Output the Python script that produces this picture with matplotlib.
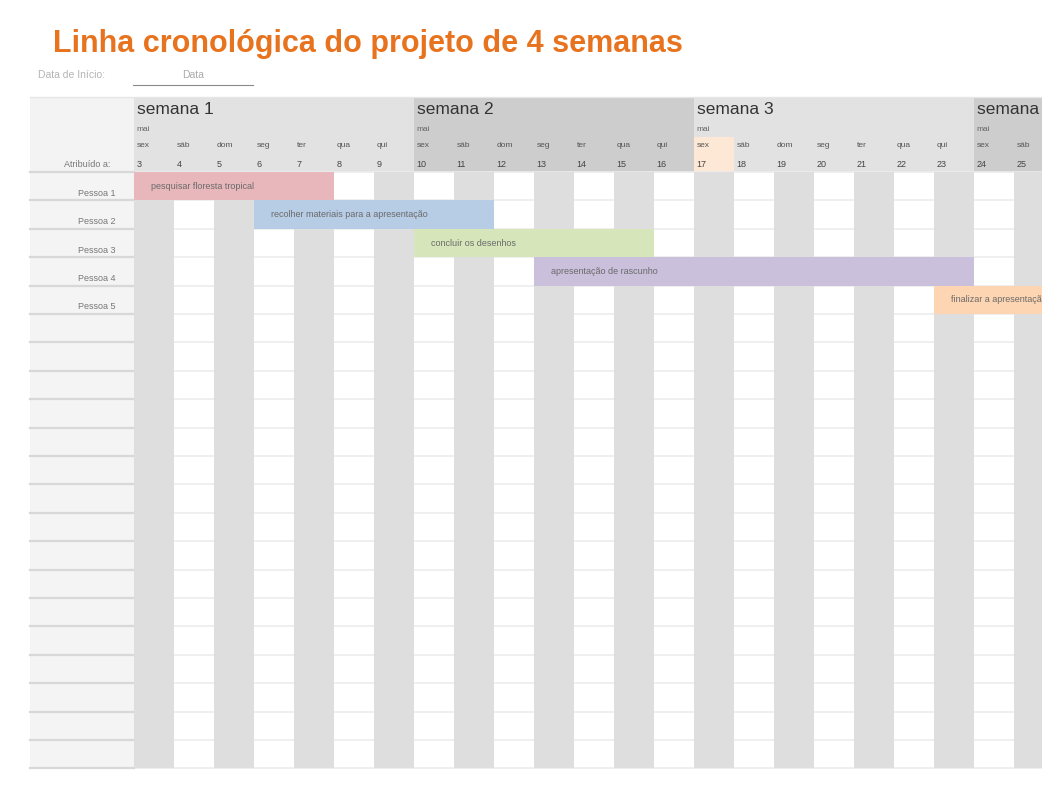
import matplotlib.pyplot as plt
from matplotlib.patches import Rectangle

plt.rcParams['font.family'] = ['Liberation Sans', 'DejaVu Sans']

# dados
titulo = "Linha cronológica do projeto de 4 semanas"
semanas = ["semana 1", "semana 2", "semana 3", "semana 4"]
mes = "mai"
dias = list(range(3, 26))
dias_semana = ["sex", "sáb", "dom", "seg", "ter", "qua", "qui"]
pessoas = ["Pessoa 1", "Pessoa 2", "Pessoa 3", "Pessoa 4", "Pessoa 5"]
tarefas = ["pesquisar floresta tropical",
           "recolher materiais para a apresentação",
           "concluir os desenhos",
           "apresentação de rascunho",
           "finalizar a apresentação"]
inicio = [3, 6, 10, 13, 23]
fim = [7, 11, 15, 23, 27]
dia_destacado = 17
n_linhas = 21

cores_tarefas = ["#e8b7bb", "#b7cce5", "#d7e5ba", "#cbc0dc", "#fdd5b2"]
cores_semanas = ["#e2e2e2", "#cdcdcd"]

fig = plt.figure(figsize=(10.42, 8), dpi=100)
ax = fig.add_axes([0, 0, 1, 1])
# eixo x: dia d ocupa [d, d+1]; eixo y: linha i ocupa [i, i+1]
ax.set_xlim(3 - 134 / 40, 3 + 908 / 40)
ax.set_ylim((800 - 172) / 28.4, -172 / 28.4)
ax.axis("off")

x_esq = 3 + (30 - 134) / 40
x_dir = dias[-1] + 1
topo = (97 - 172) / 28.4

# titulo e data de inicio
fig.text(53 / 1042, 1 - 44 / 800, titulo, color="#e8731e", fontsize=22,
         fontweight="bold", va="center", ha="left")
fig.text(38 / 1042, 1 - 75 / 800, "Data de Início:", color="#b5b5b5",
         fontsize=7.5, va="center")
fig.text(193 / 1042, 1 - 75 / 800, "Data", color="#aaaaaa",
         fontsize=7.5, va="center", ha="center")
fig.add_artist(plt.Line2D([133 / 1042, 253 / 1042], [1 - 85 / 800, 1 - 85 / 800],
                          color="#8a8a8a", lw=0.8))

# cabecalho
ax.add_patch(Rectangle((x_esq, topo), 3 - x_esq, -topo, color="#f3f3f3", lw=0))
ax.text(2.4, -0.28, "Atribuído a:", fontsize=6.5, color="#777777",
        ha="right", va="center")
for k, sem in enumerate(semanas):
    d0 = dias[0] + 7 * k
    ax.add_patch(Rectangle((d0, topo), 7, -topo, color=cores_semanas[k % 2], lw=0))
    ax.text(d0 + 0.07, -2.2, sem, fontsize=12.5, color="#333333", va="center",
            clip_on=True)
    ax.text(d0 + 0.07, -1.51, mes, fontsize=6, color="#666666", va="center")

ax.add_patch(Rectangle((dia_destacado, -1.23), 1, 1.23, color="#fde8d6", lw=0))
for i, d in enumerate(dias):
    ax.text(d + 0.07, -0.92, dias_semana[i % 7], fontsize=6, color="#555555",
            va="center")
    ax.text(d + 0.07, -0.28, str(d), fontsize=6.5, color="#444444", va="center")

ax.plot([x_esq, x_dir], [topo, topo], color="#e6e6e6", lw=1)

# grade
ax.add_patch(Rectangle((x_esq, 0), 3 - x_esq, n_linhas, color="#f4f4f4", lw=0))
for i in range(n_linhas + 1):
    ax.plot([x_esq, 3], [i, i], color="#d8d8d8", lw=1.6, zorder=2)
    ax.plot([3, x_dir], [i, i], color="#ececec", lw=1.2, zorder=1)
for d in dias:
    if d % 2 == 1:
        ax.add_patch(Rectangle((d, 0), 1, n_linhas, color="#dedede", lw=0,
                               zorder=3))

for i, p in enumerate(pessoas):
    ax.text(2.53, i + 0.75, p, fontsize=6.5, color="#777777", ha="right",
            va="center", zorder=5)

# tarefas
for i, t in enumerate(tarefas):
    ax.add_patch(Rectangle((inicio[i], i), fim[i] - inicio[i] + 1, 1,
                           color=cores_tarefas[i], lw=0, zorder=4))
    ax.text(inicio[i] + 0.42, i + 0.5, t, fontsize=6.5, color="#6a6a6a",
            va="center", zorder=5, clip_on=True)

fig.savefig("out.png", dpi=100)
